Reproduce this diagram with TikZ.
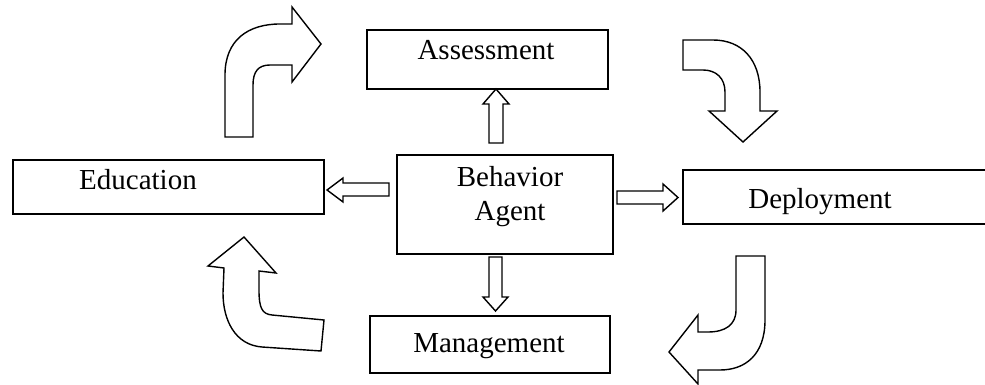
\documentclass[tikz,border=0pt]{standalone}
\usepackage{fontspec}
\setmainfont{Liberation Serif}
\begin{document}
\begin{tikzpicture}[x=1pt,y=-1pt,
  box/.style={draw, line width=1.6pt, inner sep=0pt, anchor=north west},
  blk/.style={draw, line width=1.4pt, fill=white, line join=miter},
  lbl/.style={anchor=base, inner sep=0pt, font=\fontsize{29}{34}\selectfont}]
\useasboundingbox (0,0) rectangle (985,385);
% boxes
\node[box, minimum width=241pt, minimum height=59pt] (ass) at (366,29) {};
\node[box, minimum width=311pt, minimum height=54pt] (edu) at (12,159) {};
\node[box, minimum width=216pt, minimum height=99pt] (ba) at (396,154) {};
\node[box, minimum width=320pt, minimum height=54pt] (dep) at (682,169) {};
\node[box, minimum width=240pt, minimum height=57pt] (man) at (369,315) {};
% texts
\node[lbl] (asst) at (486,60) {Assessment};
\node[lbl] (edut) at (138,189) {Education};
\node[lbl] (bat1) at (510,186) {Behavior};
\node[lbl] (bat2) at (510,220) {Agent};
\node[lbl] (dept) at (820,208) {Deployment};
\node[lbl] (mant) at (489,352) {Management};
% straight block arrows
\draw[blk] (489,143) -- (489,104) -- (483,104) -- (496,89) -- (509,104) -- (503,104) -- (503,143) -- cycle;
\draw[blk] (489,257) -- (489,297) -- (483,297) -- (495.5,311) -- (508,297) -- (502,297) -- (502,257) -- cycle;
\draw[blk] (389,183) -- (343,183) -- (343,178) -- (327,190) -- (343,202) -- (343,196) -- (389,196) -- cycle;
\draw[blk] (617,191) -- (663,191) -- (663,184) -- (678,197.5) -- (663,211) -- (663,204) -- (617,204) -- cycle;
% curved arrows
% top-left
\draw[blk] (225,137) -- (225,75) .. controls (225,40) and (248,24) .. (280,24)
  -- (292,24) -- (292,7) -- (321,44) -- (292,82) -- (292,65) -- (270,65)
  .. controls (258,65) and (253,72) .. (253,85) -- (253,137) -- cycle;
% top-right
\draw[blk] (683,40) -- (713,40) .. controls (742,40) and (760,60) .. (760,92)
  -- (760,111) -- (777,111) -- (743,142) -- (709,111) -- (725,111) -- (725,92)
  .. controls (725,78) and (716,70) .. (703,70) -- (683,70) -- cycle;
% bottom-right
\draw[blk] (736,256) -- (765,256) -- (765,320) .. controls (765,355) and (745,370) .. (720,370)
  -- (698,370) -- (698,384) -- (669,352) -- (698,315) -- (698,332) -- (708,332)
  .. controls (725,332) and (736,325) .. (736,310) -- cycle;
% bottom-left
\draw[blk] (244,237) -- (276,273) -- (259,271) -- (259,290)
  .. controls (259,308) and (262,314) .. (272,315) -- (324,320) -- (321,351) -- (262,347)
  .. controls (235,345) and (223,320) .. (223,293) -- (224,268) -- (208,266) -- cycle;
\end{tikzpicture}
\end{document}
